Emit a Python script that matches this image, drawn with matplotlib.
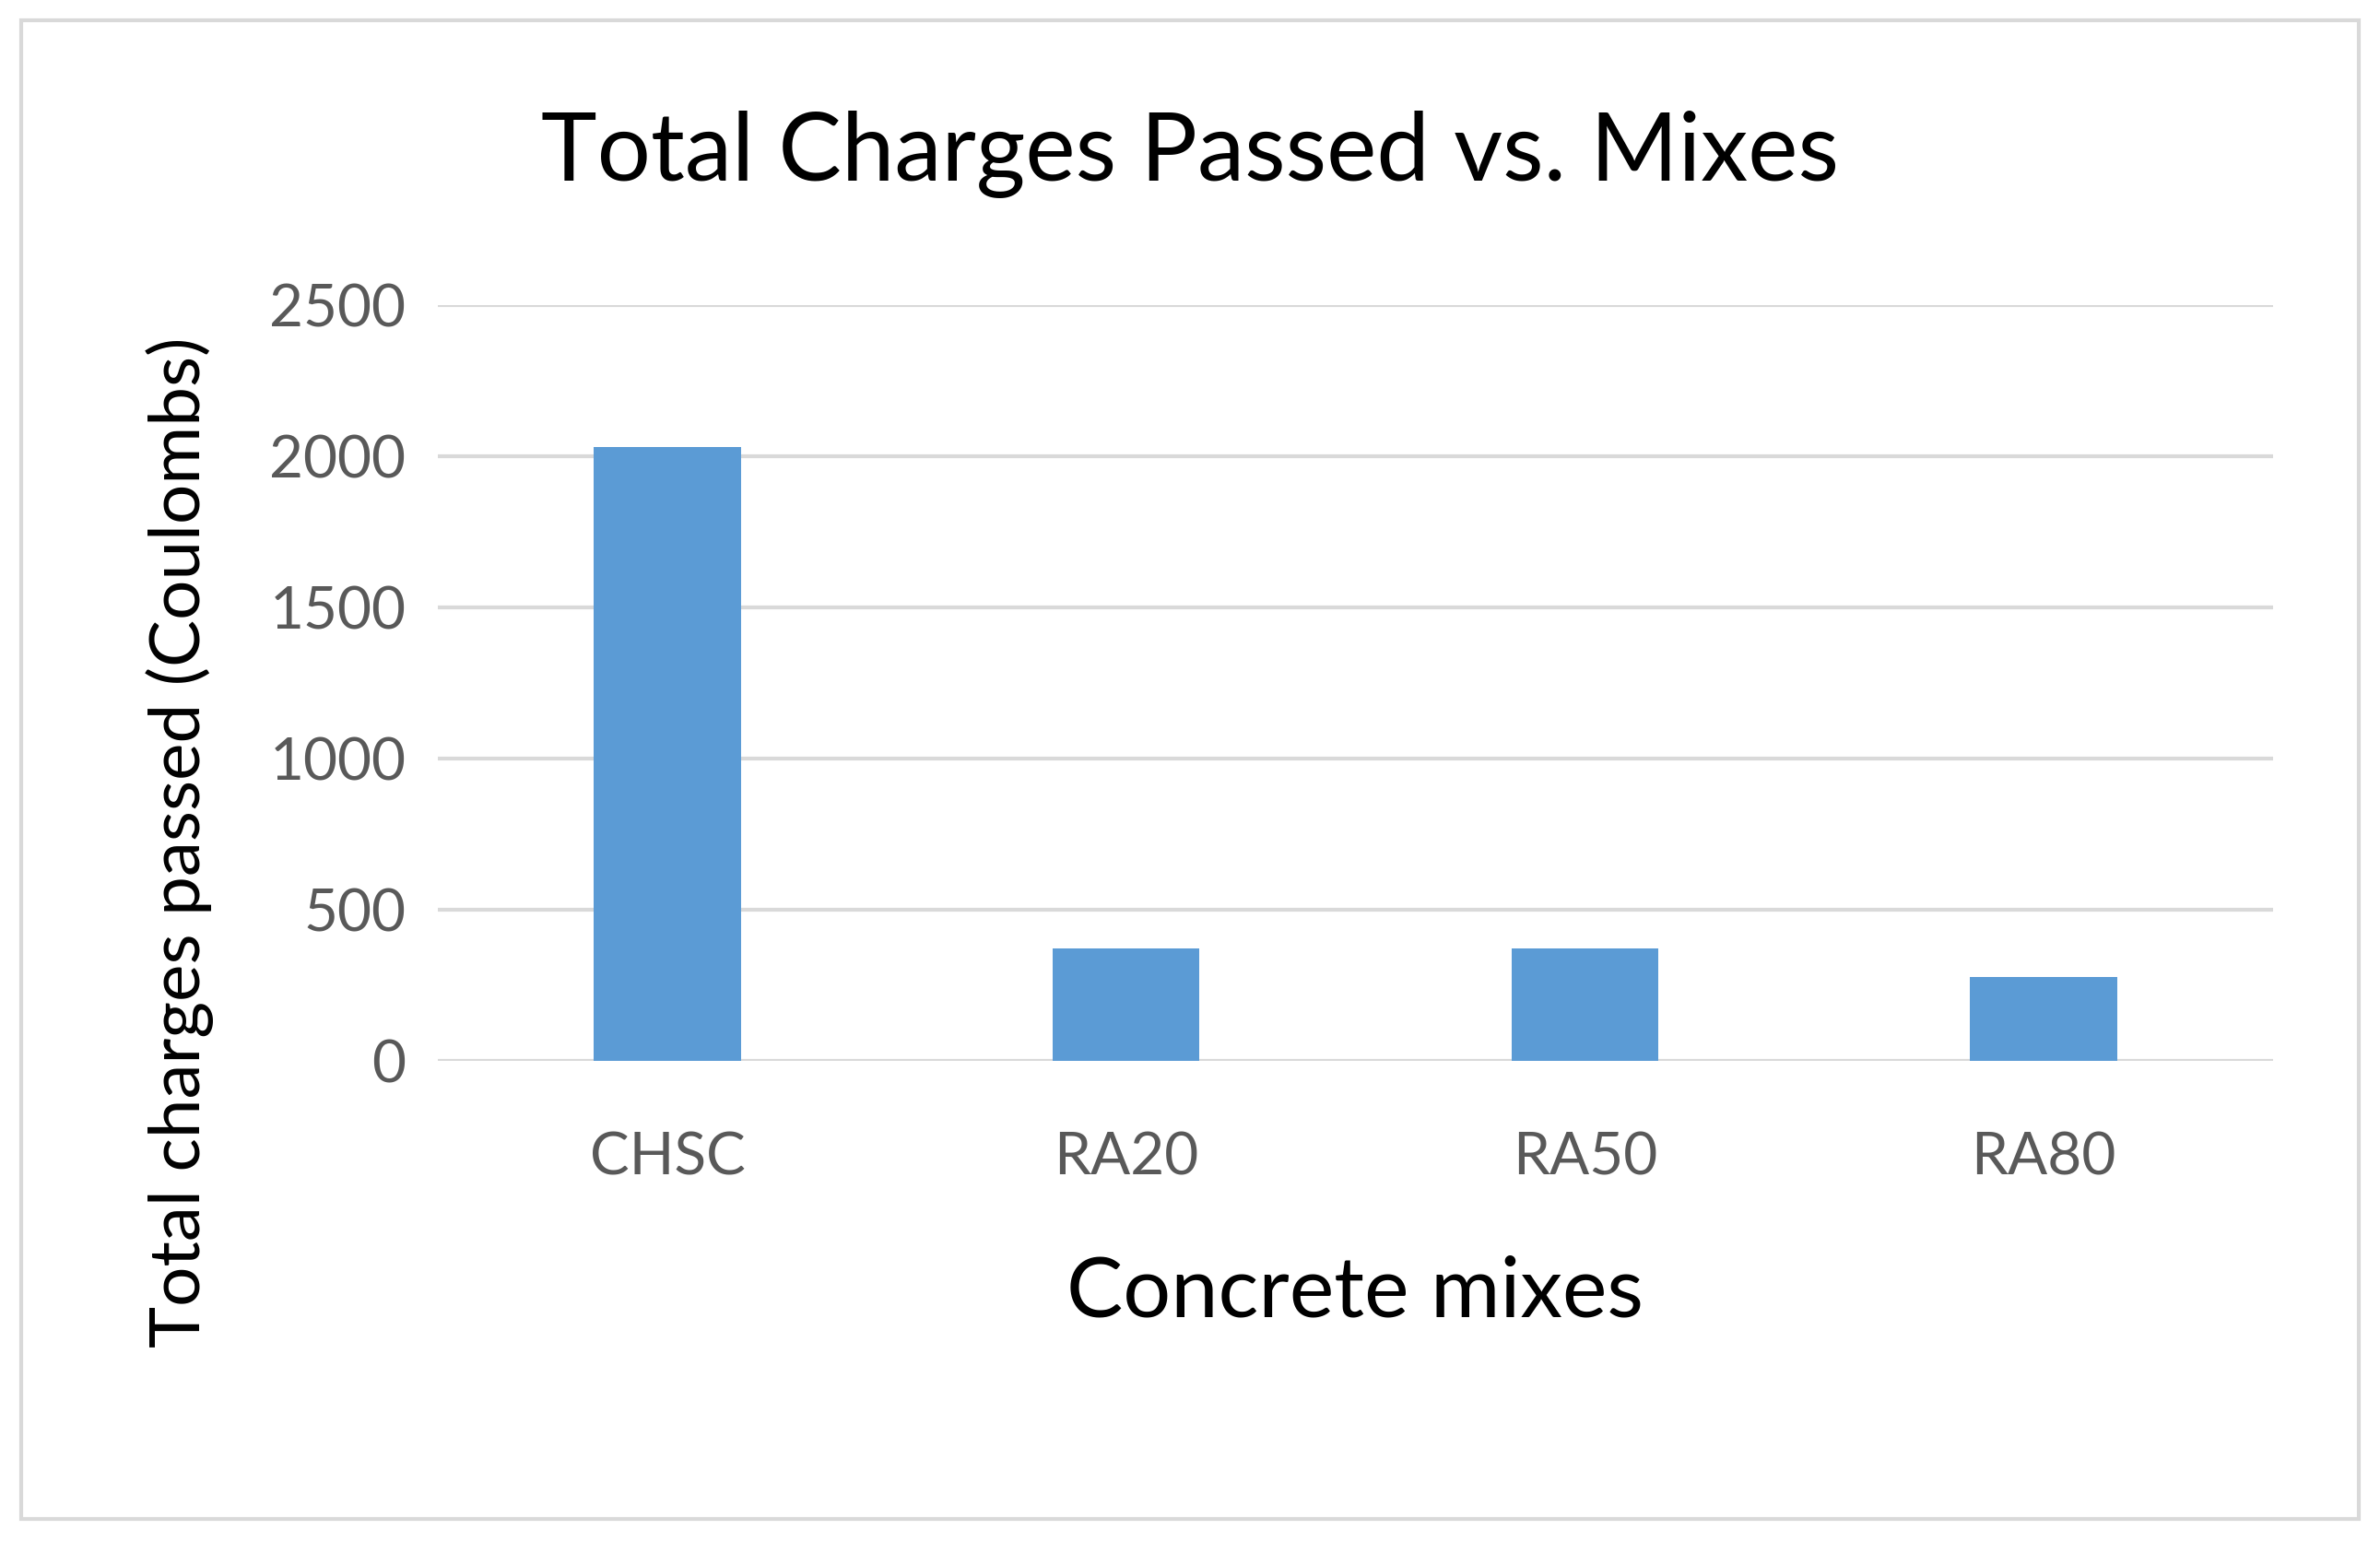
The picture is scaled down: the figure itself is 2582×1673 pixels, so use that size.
import matplotlib
matplotlib.use("Agg")
import matplotlib.pyplot as plt
from matplotlib.patches import Rectangle

categories = ["CHSC", "RA20", "RA50", "RA80"]
values = [2032, 372, 372, 277]
yticks = [0, 500, 1000, 1500, 2000, 2500]

plt.rcParams['font.family'] = ['Lato', 'DejaVu Sans']
fig = plt.figure(figsize=(25.82, 16.73), dpi=100)
ax = fig.add_axes([0.184, 0.312, 0.771, 0.49])
x = range(len(categories))
ax.bar(x, values, width=0.32, color="#5B9BD5", zorder=3)
ax.set_ylim(0, 2500)
ax.set_xlim(-0.5, 3.5)
ax.set_yticks(yticks)
ax.set_xticks(list(x))
ax.set_xticklabels(categories)
ax.grid(axis='y', color="#D9D9D9", linewidth=3, zorder=0)
for s in ax.spines.values():
    s.set_visible(False)
ax.tick_params(length=0, labelsize=46, labelcolor="#595959", pad=25)
ax.tick_params(axis='x', pad=55)
ax.set_xlabel("Concrete mixes", fontsize=66, labelpad=55)
ax.set_ylabel("Total charges passed (Coulombs)", fontsize=55)
ax.yaxis.set_label_coords(-0.122, 0.29)
fig.text(0.5, 0.9, "Total Charges Passed vs. Mixes", fontsize=74, ha='center', va='center')
fig.patches.append(Rectangle((0.009, 0.015), 0.982, 0.972, transform=fig.transFigure,
                             fill=False, edgecolor="#D9D9D9", linewidth=3))
fig.savefig("out.png", dpi=100)
